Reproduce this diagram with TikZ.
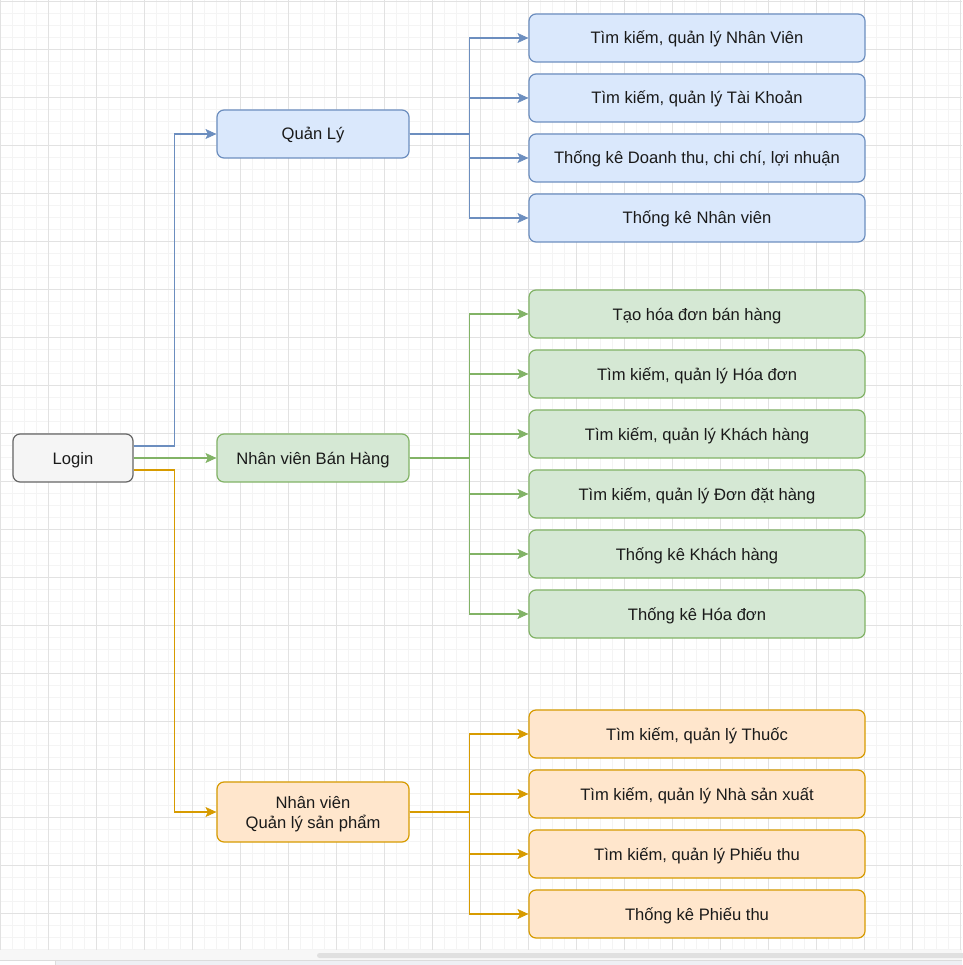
\documentclass[tikz,border=0pt]{standalone}
\usepackage{fontspec}
\setmainfont{Liberation Sans}
\usetikzlibrary{arrows.meta,calc}

\definecolor{gridminor}{HTML}{F4F4F4}
\definecolor{gridmajor}{HTML}{E2E2E2}
\definecolor{blueFill}{HTML}{DAE8FC}
\definecolor{blueLine}{HTML}{6C8EBF}
\definecolor{greenFill}{HTML}{D5E8D4}
\definecolor{greenLine}{HTML}{82B366}
\definecolor{orangeFill}{HTML}{FFE6CC}
\definecolor{orangeLine}{HTML}{D79B00}
\definecolor{grayFill}{HTML}{F5F5F5}
\definecolor{grayLine}{HTML}{666666}
\definecolor{textDark}{HTML}{1A1A1A}
\definecolor{barStrip}{HTML}{F7F7F7}
\definecolor{barThumb}{HTML}{E0E0E0}
\definecolor{barEdge}{HTML}{DCDCDC}
\definecolor{footFill}{HTML}{EEF0F4}

\tikzset{
  box/.style={draw, rounded corners=7pt, line width=1.2pt, inner sep=0pt,
    minimum height=48pt, text=textDark, align=center,
    text height=12pt, text depth=0pt,
    font=\fontsize{16.6}{20}\selectfont},
  leafbox/.style={box, minimum width=336pt},
  midbox/.style={box, minimum width=192pt},
  bluebox/.style={fill=blueFill, draw=blueLine},
  greenbox/.style={fill=greenFill, draw=greenLine},
  orangebox/.style={fill=orangeFill, draw=orangeLine},
  graybox/.style={fill=grayFill, draw=grayLine},
  link/.style={line width=1.3pt,
    -{Stealth[length=11pt,width=10pt,inset=2.5pt,line width=0.6pt]}},
  bluelink/.style={link, draw=blueLine},
  greenlink/.style={link, draw=greenLine},
  orangelink/.style={link, draw=orangeLine},
}

\begin{document}
\begin{tikzpicture}[x=1pt, y=-1pt]
  \useasboundingbox (0,0) rectangle (962,965);
  \fill[white] (0,0) rectangle (962,965);

  % canvas grid
  \begin{scope}
    \clip (0,0) rectangle (962,950);
    \foreach \gx in {0,12,...,960} \draw[gridminor, line width=0.8pt] (\gx+0.5,0) -- (\gx+0.5,950);
    \foreach \gy in {1,13,...,950} \draw[gridminor, line width=0.8pt] (0,\gy) -- (962,\gy);
    \foreach \gx in {0,48,...,960} \draw[gridmajor, line width=0.9pt] (\gx+0.5,0) -- (\gx+0.5,950);
    \foreach \gy in {1,49,...,950} \draw[gridmajor, line width=0.9pt] (0,\gy) -- (962,\gy);
  \end{scope}

  % scroll bar and footer strip
  \fill[barStrip] (0,950) rectangle (962,960);
  \fill[barThumb, rounded corners=2.5pt] (317,953) rectangle (970,958);
  \fill[footFill] (55,960) rectangle (962,965);
  \draw[barEdge, line width=0.8pt] (0,960) -- (962,960);
  \draw[barEdge, line width=0.8pt] (55,960) -- (55,965);

  % entry and role nodes
  \node[box, graybox, minimum width=120pt] (login) at (73,458) {Login};
  \node[midbox, bluebox] (qly) at (313,134) {Quản Lý};
  \node[midbox, greenbox] (nvbh) at (313,458) {Nhân viên Bán Hàng};
  \node[midbox, orangebox, minimum height=60pt, text height=32pt]
    (nvsp) at (313,812) {Nhân viên\\Quản lý sản phẩm};

  % manager functions
  \node[leafbox, bluebox] (b1) at (697,38)  {Tìm kiếm, quản lý Nhân Viên};
  \node[leafbox, bluebox] (b2) at (697,98)  {Tìm kiếm, quản lý Tài Khoản};
  \node[leafbox, bluebox] (b3) at (697,158) {Thống kê Doanh thu, chi chí, lợi nhuận};
  \node[leafbox, bluebox] (b4) at (697,218) {Thống kê Nhân viên};

  % sales staff functions
  \node[leafbox, greenbox] (g1) at (697,314) {Tạo hóa đơn bán hàng};
  \node[leafbox, greenbox] (g2) at (697,374) {Tìm kiếm, quản lý Hóa đơn};
  \node[leafbox, greenbox] (g3) at (697,434) {Tìm kiếm, quản lý Khách hàng};
  \node[leafbox, greenbox] (g4) at (697,494) {Tìm kiếm, quản lý Đơn đặt hàng};
  \node[leafbox, greenbox] (g5) at (697,554) {Thống kê Khách hàng};
  \node[leafbox, greenbox] (g6) at (697,614) {Thống kê Hóa đơn};

  % product staff functions
  \node[leafbox, orangebox] (o1) at (697,734) {Tìm kiếm, quản lý Thuốc};
  \node[leafbox, orangebox] (o2) at (697,794) {Tìm kiếm, quản lý Nhà sản xuất};
  \node[leafbox, orangebox] (o3) at (697,854) {Tìm kiếm, quản lý Phiếu thu};
  \node[leafbox, orangebox] (o4) at (697,914) {Thống kê Phiếu thu};

  % login to roles
  \draw[bluelink] ([yshift=12pt]login.east) -| ([xshift=-42pt]qly.west) -- (qly.west);
  \draw[greenlink] (login.east) -- (nvbh.west);
  \draw[orangelink] ([yshift=-12pt]login.east) -| ([xshift=-42pt]nvsp.west) -- (nvsp.west);

  % roles to functions
  \foreach \t in {b1,b2,b3,b4}
    \draw[bluelink] (qly.east) -- ++(60,0) |- (\t.west);
  \foreach \t in {g1,g2,g3,g4,g5,g6}
    \draw[greenlink] (nvbh.east) -- ++(60,0) |- (\t.west);
  \foreach \t in {o1,o2,o3,o4}
    \draw[orangelink] (nvsp.east) -- ++(60,0) |- (\t.west);
\end{tikzpicture}
\end{document}
